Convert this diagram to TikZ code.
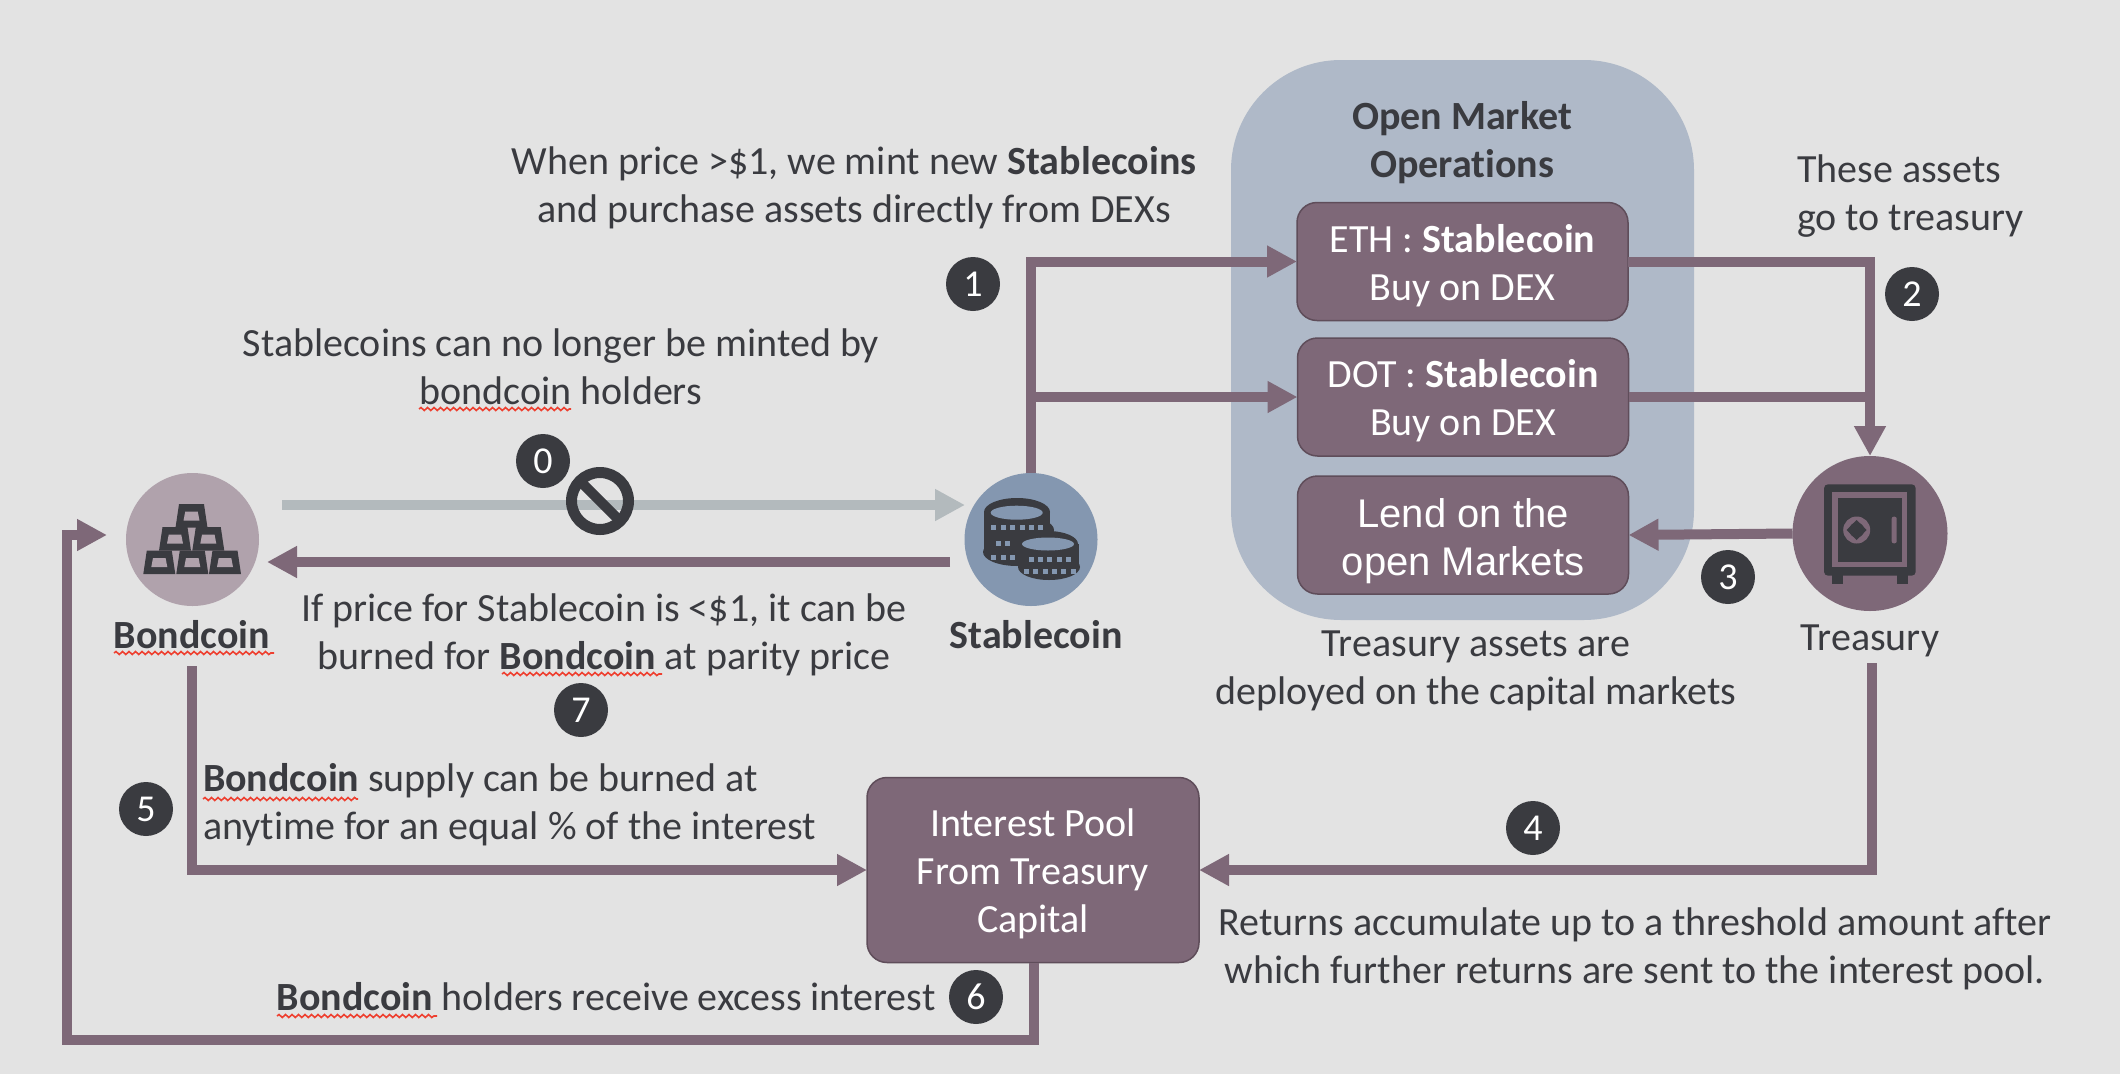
\documentclass[tikz,border=0pt]{standalone}
\usepackage{fontspec}
\setmainfont[Ligatures=CommonOff]{Carlito}
\newfontfamily\arialfont{Liberation Sans}
\usetikzlibrary{arrows.meta,decorations.pathmorphing,shapes.geometric}
\definecolor{bgc}{HTML}{E3E3E3}
\definecolor{mauve}{HTML}{7E6878}
\definecolor{mauvedk}{HTML}{5F4D5A}
\definecolor{ink}{HTML}{3A3B40}
\definecolor{blob}{HTML}{AFB9C8}
\definecolor{greyar}{HTML}{B3BABD}
\definecolor{bondc}{HTML}{B0A2AC}
\definecolor{stabc}{HTML}{8497B0}
\definecolor{redw}{HTML}{EE4030}
\tikzset{
  every node/.style={outer sep=0pt,inner sep=0pt},
  lbl/.style={text=ink,font=\fontsize{40}{48}\selectfont,align=center},
  lbll/.style={lbl,align=left},
  boldl/.style={text=ink,font=\fontsize{40}{48}\selectfont\bfseries,align=center},
  boxn/.style={draw=mauvedk,line width=1.5pt,fill=mauve,rounded corners=20pt,minimum width=331pt,minimum height=118pt},
  boxt/.style={text=white,align=center,font=\fontsize{40}{48}\selectfont},
  conn/.style={draw=mauve,line width=10pt},
  arr/.style={conn,-{Triangle[length=30pt,width=30pt]}},
  badge/.style={circle,fill=ink,minimum size=54pt,text=white,font=\fontsize{38}{38}\selectfont},
  coin/.style={circle,minimum size=133pt},
  spell/.style={draw=redw,line width=1.6pt,decorate,decoration={snake,amplitude=1.5pt,segment length=6.5pt}},
}
\newcommand\goldbar[2]{% centre x, bottom y
  \fill[ink] (#1-16,#2) -- (#1-12.5,#2-23.5) -- (#1+12.5,#2-23.5) -- (#1+16,#2) -- cycle;
  \fill[bondc] (#1-8,#2-7) -- (#1-6.3,#2-16) -- (#1+6.3,#2-16) -- (#1+8,#2-7) -- cycle;
}
\newcommand\coinbody[6]{% x, top y, rx, ry, lower x, lower y
  \fill[ink] (#1,#2) ellipse[x radius=#3,y radius=#4];
  \fill[ink] (#1-#3,#2) rectangle (#5+#3,#6);
  \fill[ink] (#5,#6) ellipse[x radius=#3+1,y radius=#4];
}
\newcommand\cointick[2]{\fill[stabc] (#1-2.5,#2-2.5) rectangle (#1+2.5,#2+2.5);}
\begin{document}
\begin{tikzpicture}[x=1pt,y=-1pt]
\useasboundingbox (0,0) rectangle (2120,1074);
\fill[bgc] (0,0) rectangle (2120,1074);

% Open Market panel
\node[fill=blob,rounded corners=110pt,minimum width=463pt,minimum height=560pt] (panel) at (1462.5,340) {};
\node[boldl] (omo) at (1462,143) {Open Market\\Operations};

% Circles
\node[coin,fill=bondc] (bond) at (192.5,539.5) {};
\node[coin,fill=stabc] (stable) at (1031,539.5) {};
\node[circle,fill=mauve,minimum size=155pt] (treasury) at (1870,533.5) {};

% Boxes
\node[boxn] (eth) at (1462.5,261.5) {};
\node[boxt] (etht) at ([yshift=-4pt]eth.center) {ETH : \textbf{Stablecoin}\\Buy on DEX};
\node[boxn] (dot) at (1463,397) {};
\node[boxt] (dott) at ([yshift=-4pt]dot.center) {DOT : \textbf{Stablecoin}\\Buy on DEX};
\node[boxn] (lend) at (1463,535) {};
\node[boxt,font=\arialfont\fontsize{40}{48}\selectfont] (lendt) at ([yshift=-6pt]lend.center) {Lend on the\\open Markets};
\node[boxn,minimum width=332pt,minimum height=185pt] (pool) at (1033,870) {};
\node[boxt] (poolt) at ([yshift=-4pt]pool.center) {Interest Pool\\From Treasury\\Capital};

% Free connector ends
\coordinate (grayA) at (282,505);
\coordinate (grayB) at (965,505);
\coordinate (burnA) at (950,562);
\coordinate (burnB) at (267,562);
\coordinate (bondOut) at (192,666);
\coordinate (tresOut) at (1872,663);
\coordinate (bondIn) at (107,535);
\coordinate (outerL) at (67,1040);
\coordinate (outerR) at (1034,1040);

% Connectors
\draw[arr,draw=greyar] (grayA) -- (grayB);
\draw[arr] (burnA) -- (burnB);
\draw[arr] (stable.north) |- (eth.west);
\draw[arr] (stable.north |- dot.west) -- (dot.west);
\draw[arr] (eth.east) -| (treasury.north);
\draw[conn] (dot.east) -- (treasury.north |- dot.east);
\draw[arr] (treasury.west) -- (lend.east);
\draw[arr] (bondOut) |- (pool.west);
\draw[arr] (tresOut) |- (pool.east);
\draw[arr] (pool.south -| outerR) -- (outerR) -- (outerL) |- (bondIn);

% Labels
\node[lbl] (t1) at (854,188) {When price >\$1, we mint new \textbf{Stablecoins}\\and purchase assets directly from DEXs};
\node[lbll,anchor=west] (t2) at (1797,196) {These assets\\go to treasury};
\node[lbl] (t3) at (561,367) {Stablecoins can no longer be minted by\\bondcoin holders};
\node[lbl] (t4) at (604,635) {If price for Stablecoin is <\$1, it can be\\burned for \textbf{Bondcoin} at parity price};
\node[boldl] (t5) at (192,635) {Bondcoin};
\node[boldl] (t6) at (1036,635) {Stablecoin};
\node[lbl] (t7) at (1870,641) {Treasury};
\node[lbll,anchor=west] (t8) at (203,805) {\textbf{Bondcoin} supply can be burned at\\anytime for an equal \% of the interest};
\node[lbl] (t9) at (1635,949) {Returns accumulate up to a threshold amount after\\which further returns are sent to the interest pool.};
\node[lbl] (t10) at (606,997) {\textbf{Bondcoin} holders receive excess interest};
\node[lbl] (t11) at (1476,671) {Treasury assets are\\deployed on the capital markets};

% Spelling underlines
\draw[spell] (114,653) -- (274,653);
\draw[spell] (502,674) -- (662,674);
\draw[spell] (419,409) -- (571,409);
\draw[spell] (203,799) -- (358,799);
\draw[spell] (277,1016) -- (437,1016);

% Badges
\node[badge] (b0) at (543,461) {0};
\node[badge] (b1) at (973,284) {1};
\node[badge] (b2) at (1912,294) {2};
\node[badge] (b3) at (1728,577) {3};
\node[badge] (b4) at (1533,828) {4};
\node[badge] (b5) at (146,809) {5};
\node[badge] (b6) at (976,997) {6};
\node[badge] (b7) at (581,710) {7};

% No-entry sign
\draw[ink,line width=11pt] (600,501) circle[radius=28.5];
\draw[ink,line width=10pt] (580,481) -- (620,521);

% Gold bars
\goldbar{191.5}{527.7}
\goldbar{175}{550.7}
\goldbar{208.3}{550.7}
\goldbar{159.3}{574}
\goldbar{192.3}{574}
\goldbar{225}{574}

% Coins
\coinbody{1017}{512}{33}{14}{1017}{552}
\fill[ink] (1020,530) ellipse[x radius=34,y radius=14];
\fill[stabc] (1016.7,512.7) ellipse[x radius=26,y radius=7];
\foreach \tx in {993,1003,1012,1022,1031,1040} {\cointick{\tx}{527}}
\foreach \tx in {998,1007} {\cointick{\tx}{543}}
\foreach \tx in {993,1003,1012} {\cointick{\tx}{557}}
\coinbody{1048}{544}{30}{13}{1049}{567}
\fill[stabc] (1048,544) ellipse[x radius=26,y radius=6.5];
\foreach \tx in {1031,1040,1049,1059,1068} {\cointick{\tx}{559}}
\foreach \tx in {1026,1035,1045,1054,1063,1073} {\cointick{\tx}{571}}

% Safe
\fill[ink] (1832.3,570) rectangle (1843.3,584);
\fill[ink] (1897,570) rectangle (1907.7,584);
\fill[ink,rounded corners=4pt] (1824,484.3) rectangle (1915.7,575.7);
\fill[mauve] (1832.3,492.3) rectangle (1906.7,567.3);
\fill[ink] (1837.7,498.3) rectangle (1902.3,562.3);
\fill[mauve] (1856.7,530) circle[radius=13.5];
\fill[ink] (1856.7,530) circle[radius=7.5];
\fill[ink] (1856.7,520) -- (1866.7,530) -- (1856.7,540) -- (1846.7,530) -- cycle;
\fill[mauve,rounded corners=2pt] (1891.7,516.7) rectangle (1896.7,543.3);
\end{tikzpicture}
\end{document}
